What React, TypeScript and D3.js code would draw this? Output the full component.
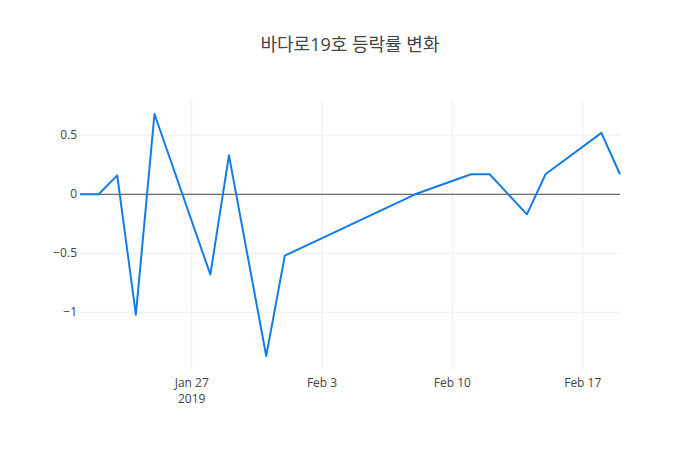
import React from "react";
import * as d3 from "d3";

const dates: string[] = [
  "2019-01-21", "2019-01-22", "2019-01-23", "2019-01-24", "2019-01-25",
  "2019-01-28", "2019-01-29", "2019-01-31", "2019-02-01", "2019-02-08",
  "2019-02-11", "2019-02-12", "2019-02-14", "2019-02-15", "2019-02-18",
  "2019-02-19",
];
const changes: number[] = [
  0, 0, 0.16, -1.02, 0.68,
  -0.68, 0.33, -1.37, -0.52, 0,
  0.17, 0.17, -0.17, 0.17, 0.52,
  0.17,
];
const yTicks: number[] = [-1, -0.5, 0, 0.5];
const xTickDates: string[] = ["2019-01-27", "2019-02-03", "2019-02-10", "2019-02-17"];
const xTickLabels: string[] = ["Jan 27", "Feb 3", "Feb 10", "Feb 17"];
const title = "바다로19호 등락률 변화";

const W = 700, H = 450;
const M = { l: 80, r: 80, t: 100, b: 80 };
const FONT = "'Open Sans', 'Noto Sans CJK KR', sans-serif";

export default function App() {
  const parse = d3.utcParse("%Y-%m-%d");
  const xs = dates.map((d) => parse(d) as Date);
  const x = d3.scaleUtc()
    .domain(d3.extent(xs) as [Date, Date])
    .range([M.l, W - M.r]);
  const yMin = d3.min(changes) as number;
  const yMax = d3.max(changes) as number;
  const pad = (yMax - yMin) * 0.058;
  const y = d3.scaleLinear()
    .domain([yMin - pad, yMax + pad])
    .range([H - M.b, M.t]);
  const line = d3.line<number>()
    .x((_, i) => x(xs[i]))
    .y((v) => y(v));
  const fmt = (v: number) => (v < 0 ? "\u2212" + Math.abs(v) : String(v));

  return (
    <svg width={W} height={H} style={{ display: "block", position: "absolute", left: 0, top: 0, background: "#fff" }}>
      <rect x={0} y={0} width={W} height={H} fill="#fff" />
      {xTickDates.map((d, i) => {
        const xv = x(parse(d) as Date);
        return (
          <g key={d}>
            <line x1={xv} x2={xv} y1={M.t} y2={H - M.b} stroke="#eee" strokeWidth={1} />
            <text x={xv} y={H - M.b + 17} textAnchor="middle" fontFamily={FONT} fontSize={12} fill="#444">
              {xTickLabels[i]}
            </text>
            {i === 0 && (
              <text x={xv} y={H - M.b + 33} textAnchor="middle" fontFamily={FONT} fontSize={12} fill="#444">
                2019
              </text>
            )}
          </g>
        );
      })}
      {yTicks.map((t) => (
        <g key={t}>
          {t !== 0 && (
            <line x1={M.l} x2={W - M.r} y1={y(t)} y2={y(t)} stroke="#eee" strokeWidth={1} />
          )}
          <text x={M.l - 3} y={y(t) + 4} textAnchor="end" fontFamily={FONT} fontSize={12} fill="#444">
            {fmt(t)}
          </text>
        </g>
      ))}
      <line x1={M.l} x2={W - M.r} y1={y(0)} y2={y(0)} stroke="#444" strokeWidth={1} />
      <path d={line(changes) as string} fill="none" stroke="#137ce6" strokeWidth={2} strokeLinejoin="round" />
      <text x={W / 2} y={51} textAnchor="middle" fontFamily={FONT} fontSize={18} fill="#444">
        {title}
      </text>
    </svg>
  );
}
